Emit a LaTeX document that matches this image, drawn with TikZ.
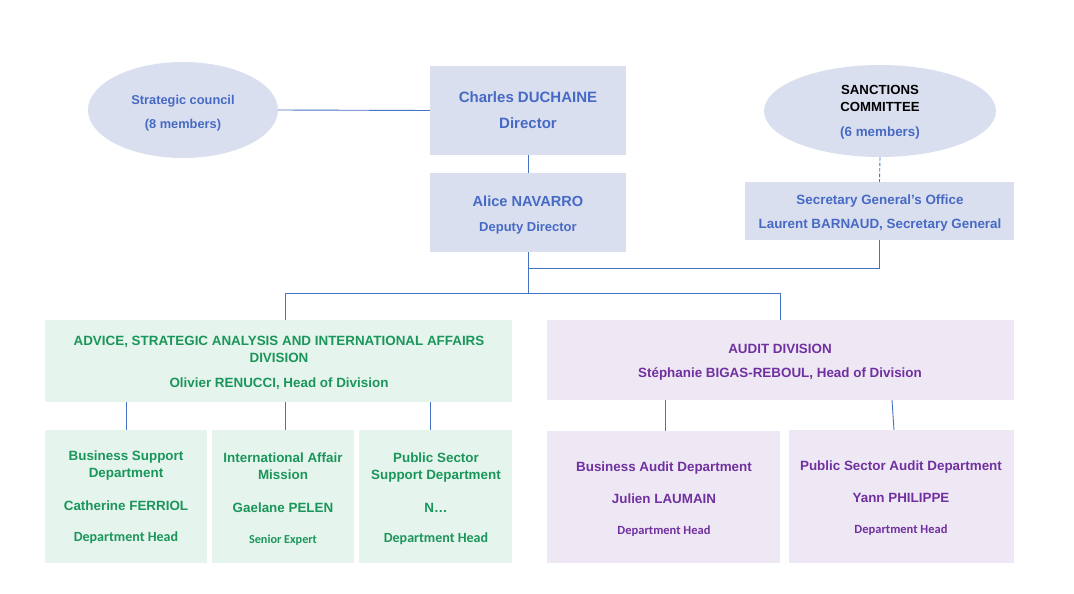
\documentclass[tikz,border=0pt]{standalone}
\usepackage{fontspec}
\setmainfont{Liberation Sans}
\newfontfamily\carl{Carlito}
\usetikzlibrary{shapes.geometric}
\definecolor{bfill}{RGB}{218,223,240}
\definecolor{btext}{RGB}{70,106,196}
\definecolor{lcol}{RGB}{68,114,196}
\definecolor{gfill}{RGB}{229,244,237}
\definecolor{gtext}{RGB}{26,150,90}
\definecolor{pfill}{RGB}{238,232,244}
\definecolor{ptext}{RGB}{112,48,160}
\tikzset{
  boxr/.style={rectangle, inner sep=0, draw=none},
  ell/.style={ellipse, inner sep=0, fill=bfill, draw=none},
  txt/.style={inner sep=0, text height=0.72em, text depth=0pt, anchor=center, yshift=-2pt},
  conn/.style={draw=lcol, line width=0.9pt},
  fa/.style={font=\fontsize{#1}{#1}\selectfont\bfseries},
  fc/.style={font=\fontsize{#1}{#1}\selectfont\carl\bfseries},
}
\begin{document}
\begin{tikzpicture}[x=1pt,y=-1pt]
\useasboundingbox (0,0) rectangle (1074,594);
% shapes
\node[ell, minimum width=190, minimum height=96] (strat) at (183,110) {};
\node[ell, minimum width=232, minimum height=92] (sanct) at (880,111) {};
\node[boxr, fill=bfill, minimum width=196, minimum height=89] (dir) at (528,110.5) {};
\node[boxr, fill=bfill, minimum width=196, minimum height=79] (dep) at (528,212.5) {};
\node[boxr, fill=bfill, minimum width=269, minimum height=58] (sec) at (879.5,211) {};
\node[boxr, fill=gfill, minimum width=467, minimum height=82] (gdiv) at (278.5,361) {};
\node[boxr, fill=gfill, minimum width=162, minimum height=133] (gs1) at (126,496.5) {};
\node[boxr, fill=gfill, minimum width=142, minimum height=133] (gs2) at (283,496.5) {};
\node[boxr, fill=gfill, minimum width=153, minimum height=133] (gs3) at (435.5,496.5) {};
\node[boxr, fill=pfill, minimum width=467, minimum height=80] (pdiv) at (780.5,360) {};
\node[boxr, fill=pfill, minimum width=233, minimum height=132] (ps1) at (663.5,497) {};
\node[boxr, fill=pfill, minimum width=225, minimum height=133] (ps2) at (901.5,496.5) {};
% connectors
\coordinate (j1) at (528,268);
\coordinate (j2) at (528,293);
\coordinate (gtop) at (285,320);
\coordinate (g1t) at (126,402);
\coordinate (g2t) at (285,402);
\coordinate (g3t) at (430,402);
\coordinate (g2b) at (285,430);
\coordinate (g3b) at (430,430);
\coordinate (p1t) at (665,400);
\coordinate (p1b) at (665,431);
\coordinate (p2t) at (892,400);
\coordinate (p2b) at (894,430);
\draw[conn] (strat.east) -- (dir.west);
\draw[conn] (dir.south) -- (dep.north);
\draw[conn, dashed, dash pattern=on 3.5pt off 2pt] (sanct.south) -- (sec.north);
\draw[conn] (sec.south) |- (j1);
\draw[conn] (dep.south) -- (j2);
\draw[conn] (j2) -| (gtop);
\draw[conn] (j2) -| (pdiv.north);
\draw[conn] (g1t) -- (gs1.north);
\draw[conn] (g2t) -- (g2b);
\draw[conn] (g3t) -- (g3b);
\draw[conn] (p1t) -- (p1b);
\draw[conn] (p2t) -- (p2b);
% texts
\node[txt, fa=12.8, text=btext] (strat1) at (183,99) {Strategic council};
\node[txt, fa=12.8, text=btext] (strat2) at (183,123) {(8 members)};
\node[txt, fa=15, text=btext] (dir1) at (528,97) {Charles DUCHAINE};
\node[txt, fa=15, text=btext] (dir2) at (528,123) {Director};
\node[txt, fa=14.6, text=btext] (dep1) at (528,201) {Alice NAVARRO};
\node[txt, fa=13, text=btext] (dep2) at (528,226) {Deputy Director};
\node[txt, fa=13.2, text=black] (sanct1) at (880,89) {SANCTIONS};
\node[txt, fa=13.2, text=black] (sanct2) at (880,106) {COMMITTEE};
\node[txt, fa=13.4, text=btext] (sanct3) at (880,131) {(6 members)};
\node[txt, fa=13.4, text=btext] (sec1) at (880,199) {Secretary General’s Office};
\node[txt, fa=13.4, text=btext] (sec2) at (880,223) {Laurent BARNAUD, Secretary General};
\node[txt, fa=13.4, text=gtext] (gdiv1) at (279,340) {ADVICE, STRATEGIC ANALYSIS AND INTERNATIONAL AFFAIRS};
\node[txt, fa=13.4, text=gtext] (gdiv2) at (279,357) {DIVISION};
\node[txt, fa=13.4, text=gtext] (gdiv3) at (279,382) {Olivier RENUCCI, Head of Division};
\node[txt, fa=13.4, text=gtext] (gs1a) at (126,455) {Business Support};
\node[txt, fa=13.4, text=gtext] (gs1b) at (126,472) {Department};
\node[txt, fa=13.4, text=gtext] (gs1c) at (126,505) {Catherine FERRIOL};
\node[txt, fc=14, text=gtext] (gs1d) at (126,536) {Department Head};
\node[txt, fa=13.4, text=gtext] (gs2a) at (283,457) {International Affair};
\node[txt, fa=13.4, text=gtext] (gs2b) at (283,474) {Mission};
\node[txt, fa=13.4, text=gtext] (gs2c) at (283,507) {Gaelane PELEN};
\node[txt, fc=12.2, text=gtext] (gs2d) at (283,538) {Senior Expert};
\node[txt, fa=13.4, text=gtext] (gs3a) at (436,457) {Public Sector};
\node[txt, fa=13.4, text=gtext] (gs3b) at (436,474) {Support Department};
\node[txt, fa=13.4, text=gtext] (gs3c) at (436,507) {N…};
\node[txt, fc=14, text=gtext] (gs3d) at (436,537) {Department Head};
\node[txt, fa=13.4, text=ptext] (pdiv1) at (780,348) {AUDIT DIVISION};
\node[txt, fa=13.4, text=ptext] (pdiv2) at (780,372) {Stéphanie BIGAS-REBOUL, Head of Division};
\node[txt, fa=13.4, text=ptext] (ps1a) at (664,466) {Business Audit Department};
\node[txt, fa=13.4, text=ptext] (ps1b) at (664,498) {Julien LAUMAIN};
\node[txt, fc=12.5, text=ptext] (ps1c) at (664,529) {Department Head};
\node[txt, fa=13.4, text=ptext] (ps2a) at (901,465) {Public Sector Audit Department};
\node[txt, fa=13.4, text=ptext] (ps2b) at (901,497) {Yann PHILIPPE};
\node[txt, fc=12.5, text=ptext] (ps2c) at (901,528) {Department Head};
\end{tikzpicture}
\end{document}
